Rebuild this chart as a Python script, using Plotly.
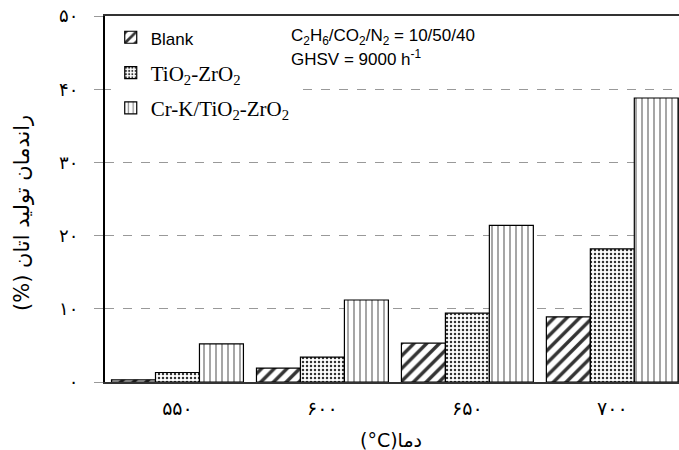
import plotly.graph_objects as go

categories = ["550", "600", "650", "700"]
tick_labels_x = ["۵۵۰", "۶۰۰", "۶۵۰", "۷۰۰"]
blank = [0.3, 1.9, 5.3, 8.9]
tio2_zro2 = [1.3, 3.4, 9.4, 18.2]
crk = [5.2, 11.2, 21.4, 38.8]
y_ticks = [0, 10, 20, 30, 40, 50]
y_tick_labels = ["۰", "۱۰", "۲۰", "۳۰", "۴۰", "۵۰"]

fig = go.Figure()
fig.add_trace(go.Bar(
    x=categories, y=blank, name='<span style="font-family:Liberation Sans, Arial;font-size:17px">Blank</span>',
    legendgroup="a",
    marker=dict(color="white", line=dict(color="black", width=1.2),
                pattern=dict(shape="/", fgcolor="#333333", bgcolor="white", fgopacity=1,
                             size=9, solidity=0.38)),
))
fig.add_trace(go.Bar(
    x=categories, y=tio2_zro2, name="TiO<sub>2</sub>-ZrO<sub>2</sub>",
    legendgroup="b",
    marker=dict(color="white", line=dict(color="black", width=1.2),
                pattern=dict(shape=".", fgcolor="#333333", bgcolor="white", fgopacity=1,
                             size=4, solidity=0.3)),
))
fig.add_trace(go.Bar(
    x=categories, y=crk, name="Cr-K/TiO<sub>2</sub>-ZrO<sub>2</sub>",
    legendgroup="c",
    marker=dict(color="white", line=dict(color="black", width=1.2),
                pattern=dict(shape="|", fgcolor="#888888", bgcolor="white", fgopacity=1,
                             size=6, solidity=0.25)),
))

fig.update_layout(
    width=679, height=450,
    margin=dict(l=105, r=0, t=16, b=68),
    paper_bgcolor="white", plot_bgcolor="white",
    barmode="group", bargap=0.09, bargroupgap=0,
    font=dict(family="Liberation Serif, DejaVu Sans", size=16, color="black"),
    showlegend=True,
    legend=dict(x=0.01, y=0.997, xanchor="left", yanchor="top",
                bgcolor="white", tracegroupgap=5,
                font=dict(family="Liberation Serif, Times New Roman", size=21, color="black")),
    xaxis=dict(
        type="category", range=[-0.5, 3.46],
        tickvals=categories, ticktext=tick_labels_x,
        tickfont=dict(family="DejaVu Sans", size=19),
        showline=True, linecolor="#333333", linewidth=2, mirror=True,
        ticks="", showgrid=False, ticklabelstandoff=8,
    ),
    yaxis=dict(
        range=[0, 50], tickvals=y_ticks, ticktext=y_tick_labels,
        tickfont=dict(family="DejaVu Sans", size=18),
        showline=True, linecolor="black", linewidth=2,
        ticks="outside", ticklen=9, tickcolor="#999999", tickwidth=1,
        ticklabelstandoff=12,
        showgrid=True, gridcolor="#999999", griddash="dash", gridwidth=1,
        zeroline=False,
    ),
    annotations=[
        dict(text="C<sub>2</sub>H<sub>6</sub>/CO<sub>2</sub>/N<sub>2</sub> = 10/50/40",
             xref="paper", yref="paper", x=(289 - 105) / 574, y=(382 - 37) / 366,
             xanchor="left", yanchor="middle", align="left", showarrow=False,
             font=dict(family="Liberation Sans, Arial", size=17, color="black")),
        dict(text="GHSV = 9000 h<sup>-1</sup>",
             xref="paper", yref="paper", x=(289 - 105) / 574, y=(382 - 58) / 366,
             xanchor="left", yanchor="middle", align="left", showarrow=False,
             font=dict(family="Liberation Sans, Arial", size=17, color="black")),
        dict(text="(%) راندمان تولید اتان", textangle=-90,
             xref="paper", yref="paper", x=(22 - 105) / 574, y=(382 - 213) / 366,
             xanchor="center", yanchor="middle", showarrow=False,
             font=dict(family="DejaVu Sans", size=21, color="black")),
        dict(text="(°C)دما",
             xref="paper", yref="paper", x=(391 - 105) / 574, y=(382 - 440) / 366,
             xanchor="center", yanchor="middle", showarrow=False,
             font=dict(family="DejaVu Sans", size=19, color="black")),
    ],
)

fig.write_html("out.html")
